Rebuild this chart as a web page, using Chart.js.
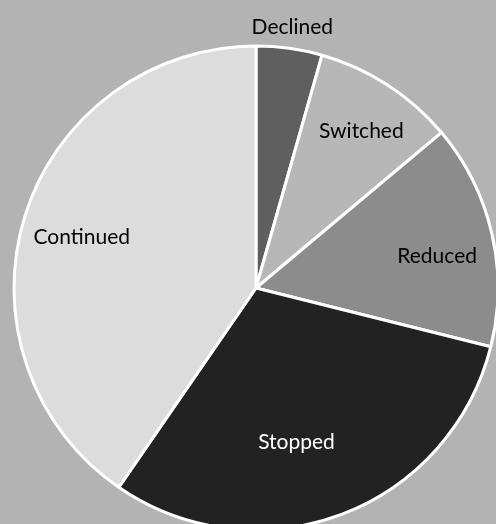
<!DOCTYPE html>
<html>
<head>
<meta charset="utf-8">
<script src="https://cdn.jsdelivr.net/npm/chart.js@4"></script>
<style>
  html, body { margin: 0; padding: 0; background: #b3b3b3; }
  #wrap { width: 496px; height: 524px; position: relative; }
</style>
</head>
<body>
<div id="wrap"><canvas id="pie"></canvas></div>
<script>
const categories = ['Declined', 'Switched', 'Reduced', 'Stopped', 'Continued'];
const shares = [4.4, 9.5, 15.0, 30.7, 40.4];
const sliceColors = ['#5f5f5f', '#b7b7b7', '#8c8c8c', '#222222', '#dcdcdc'];
const labelColors = ['#000000', '#000000', '#000000', '#ffffff', '#000000'];
// [radius factor, angle nudge in degrees] per label
const labelPlace = [[1.09, 0], [0.78, 1], [0.76, 3], [0.66, 6], [0.75, -1]];

const sliceLabels = {
    id: 'sliceLabels',
    afterDatasetsDraw(chart) {
        const ctx = chart.ctx;
        const arcs = chart.getDatasetMeta(0).data;
        ctx.save();
        ctx.font = '21px Lato, "Open Sans", sans-serif';
        ctx.textAlign = 'center';
        ctx.textBaseline = 'middle';
        arcs.forEach((arc, i) => {
            const p = arc.getProps(['x', 'y', 'startAngle', 'endAngle', 'outerRadius'], true);
            const mid = (p.startAngle + p.endAngle) / 2 + labelPlace[i][1] * Math.PI / 180;
            const r = p.outerRadius * labelPlace[i][0];
            ctx.fillStyle = labelColors[i];
            ctx.fillText(categories[i], p.x + Math.cos(mid) * r, p.y + Math.sin(mid) * r);
        });
        ctx.restore();
    }
};

const ctx = document.getElementById('pie').getContext('2d');
window.myChart = new Chart(ctx, {
    type: 'pie',
    data: {
        labels: categories,
        datasets: [{
            data: shares,
            backgroundColor: sliceColors,
            borderColor: '#ffffff',
            borderWidth: 3,
            clip: false
        }]
    },
    options: {
        responsive: true,
        maintainAspectRatio: false,
        animation: false,
        radius: 242,
        layout: { padding: { left: 16, top: 52 } },
        plugins: {
            legend: { display: false },
            tooltip: { enabled: false }
        }
    },
    plugins: [sliceLabels]
});
</script>
</body>
</html>
